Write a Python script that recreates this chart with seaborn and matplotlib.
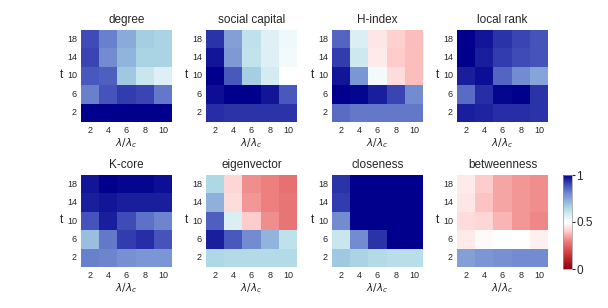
import numpy as np
import pandas as pd
import matplotlib
matplotlib.use("Agg")
import matplotlib.pyplot as plt
from matplotlib.colors import LinearSegmentedColormap
import seaborn as sns

# ---- data ----
t_labels = [18, 14, 10, 6, 2]
lam_labels = [2, 4, 6, 8, 10]
titles = ["degree", "social capital", "H-index", "local rank",
          "K-core", "eigenvector", "closeness", "betweenness"]

degree = [[0.90, 0.82, 0.74, 0.67, 0.66],
          [0.91, 0.80, 0.72, 0.66, 0.66],
          [0.88, 0.87, 0.68, 0.60, 0.56],
          [0.82, 0.89, 0.92, 0.91, 0.83],
          [1.00, 1.00, 1.00, 1.00, 1.00]]
social_capital = [[0.93, 0.76, 0.62, 0.56, 0.53],
                  [0.97, 0.77, 0.61, 0.56, 0.52],
                  [1.00, 0.88, 0.67, 0.58, 0.50],
                  [0.98, 1.00, 1.00, 0.97, 0.88],
                  [0.94, 0.93, 0.93, 0.93, 0.93]]
h_index = [[0.86, 0.57, 0.45, 0.41, 0.38],
           [0.92, 0.59, 0.46, 0.40, 0.38],
           [0.97, 0.78, 0.52, 0.43, 0.38],
           [1.00, 0.99, 0.96, 0.91, 0.80],
           [0.85, 0.83, 0.83, 0.83, 0.83]]
local_rank = [[1.00, 0.97, 0.93, 0.91, 0.89],
              [1.00, 0.96, 0.92, 0.90, 0.89],
              [0.96, 0.98, 0.86, 0.80, 0.75],
              [0.85, 0.94, 0.99, 1.00, 0.93],
              [0.96, 0.95, 0.94, 0.94, 0.93]]
k_core = [[0.97, 1.00, 0.99, 0.99, 0.98],
          [0.96, 0.97, 0.96, 0.96, 0.96],
          [0.89, 0.96, 0.90, 0.84, 0.81],
          [0.70, 0.83, 0.92, 0.94, 0.89],
          [0.82, 0.81, 0.79, 0.78, 0.78]]
eigenvector = [[0.65, 0.42, 0.32, 0.30, 0.27],
               [0.73, 0.43, 0.33, 0.30, 0.28],
               [0.87, 0.57, 0.40, 0.32, 0.28],
               [0.96, 0.88, 0.80, 0.72, 0.62],
               [0.65, 0.64, 0.64, 0.64, 0.64]]
closeness = [[0.93, 1.00, 1.00, 1.00, 1.00],
             [0.92, 1.00, 1.00, 1.00, 1.00],
             [0.80, 1.00, 1.00, 1.00, 1.00],
             [0.60, 0.80, 0.93, 1.00, 1.00],
             [0.68, 0.66, 0.64, 0.63, 0.63]]
betweenness = [[0.46, 0.40, 0.35, 0.33, 0.32],
               [0.45, 0.39, 0.35, 0.33, 0.32],
               [0.43, 0.42, 0.37, 0.33, 0.31],
               [0.46, 0.49, 0.50, 0.50, 0.47],
               [0.76, 0.78, 0.79, 0.80, 0.80]]

panels = [degree, social_capital, h_index, local_rank,
          k_core, eigenvector, closeness, betweenness]

# ---- style ----
sns.set_style("white")
plt.rcParams['font.family'] = ['Liberation Sans', 'DejaVu Sans']

cmap = LinearSegmentedColormap.from_list("rwb", [
    (0.00, (0.55, 0.00, 0.05)),
    (0.15, (0.80, 0.20, 0.22)),
    (0.30, (0.93, 0.50, 0.50)),
    (0.40, (1.00, 0.80, 0.80)),
    (0.50, (1.00, 1.00, 1.00)),
    (0.65, (0.68, 0.85, 0.90)),
    (0.80, (0.45, 0.55, 0.82)),
    (0.90, (0.25, 0.30, 0.72)),
    (1.00, (0.00, 0.00, 0.55)),
])

fig = plt.figure(figsize=(6.08, 3.08), dpi=100)
W, H = 608, 308
lefts = [81, 206, 332, 457]
tops = [30, 175]
aw, ah = 91, 92

for i, (name, vals) in enumerate(zip(titles, panels)):
    r, c = divmod(i, 4)
    ax = fig.add_axes([lefts[c] / W, 1 - (tops[r] + ah) / H, aw / W, ah / H])
    df = pd.DataFrame(vals, index=t_labels, columns=lam_labels)
    sns.heatmap(df, ax=ax, cmap=cmap, vmin=0, vmax=1, cbar=False)
    ax.set_title(name, fontsize=8.5, pad=5)
    ax.set_xlabel(r'$\lambda/\lambda_c$', fontsize=7.5, labelpad=1)
    ax.set_ylabel('t', fontsize=8.5, rotation=0, labelpad=0)
    ax.yaxis.set_label_coords(-0.22, 0.45)
    ax.tick_params(axis='both', labelsize=6.5, length=0, pad=3)
    ax.set_yticklabels([str(v) for v in t_labels], rotation=0)
    ax.set_xticklabels([str(v) for v in lam_labels], rotation=0)

cax = fig.add_axes([563 / W, 1 - 269 / H, 9 / W, 94 / H])
sm = plt.cm.ScalarMappable(cmap=cmap, norm=plt.Normalize(0, 1))
cb = fig.colorbar(sm, cax=cax, ticks=[0, 0.5, 1])
cb.ax.set_yticklabels(['0', '0.5', '1'])
cb.ax.tick_params(labelsize=8.5, length=2, pad=1)
cb.outline.set_linewidth(0.5)
cb.outline.set_edgecolor('#999999')

fig.savefig("out.png", dpi=100)
